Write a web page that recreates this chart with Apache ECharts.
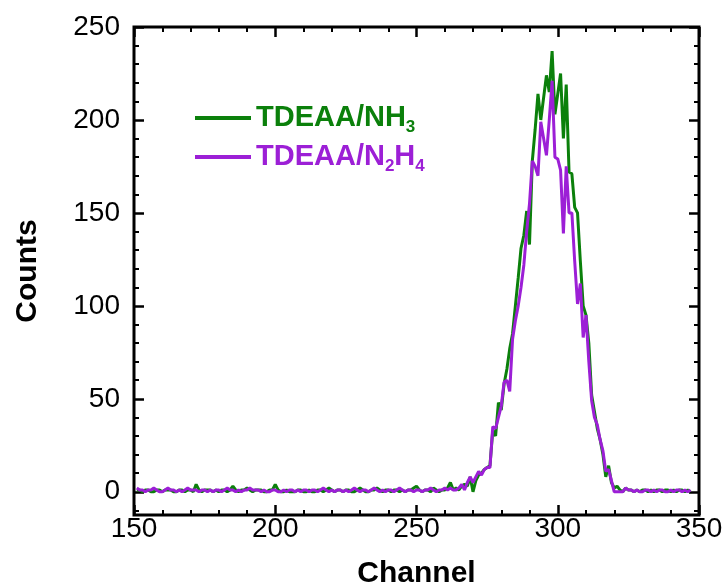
<!DOCTYPE html>
<html>
<head>
<meta charset="utf-8">
<script src="https://cdn.jsdelivr.net/npm/echarts@6/dist/echarts.min.js"></script>
<style>
  html, body { margin: 0; padding: 0; background: #fff; }
  #main { width: 724px; height: 587px; }
</style>
</head>
<body>
<div id="main"></div>
<script>
// first channel of both spectra, one value per channel after that
var channelStart = 151;

// TDEAA/NH3 counts, channels 151..347
var nh3Counts = [
  1,1,0,1,1,0,0,1,1,0,
  1,1,1,0,0,1,1,0,1,1,
  0,4,1,0,1,1,1,0,1,0,
  1,1,0,1,3,1,0,1,1,2,
  1,0,1,1,1,0,0,1,1,4,
  1,0,0,1,0,0,0,1,1,0,
  0,1,0,0,1,1,0,1,2,1,
  0,1,1,0,1,1,0,0,1,2,
  1,0,0,1,1,2,1,0,1,1,
  0,1,1,0,1,0,1,1,2,3,
  1,0,1,1,0,2,1,0,1,1,
  2,5,1,
  2,1,3,4,3,8,0,6,9,10,
  12,13,14,33,30,48,44,58,66,77,
  85,100,115,131,138,151,133,178,195,214,
  200,212,224,215,237,203,214,225,190,219,
  172,171,153,150,124,100,95,80,52,43,
  34,28,20,8,14,5,2,3,1,0,
  2,1,1,0,1,0,1,1,0,1,
  0,1,1,0,1,1,0,1,0,1,
  1,0,1,0
];

// TDEAA/N2H4 counts, channels 151..347
var n2h4Counts = [
  2,1,1,0,1,1,2,1,0,0,
  1,2,1,1,0,1,0,1,2,1,
  1,1,0,1,1,0,1,0,1,1,
  0,1,2,1,1,0,1,0,1,1,
  2,1,1,1,0,1,0,0,1,1,
  0,0,1,0,1,1,0,1,0,1,
  1,0,1,1,0,1,2,1,0,1,
  0,1,1,0,1,0,1,2,1,0,
  1,1,0,1,2,1,0,1,0,1,
  1,0,1,2,1,0,1,1,0,1,
  1,0,1,1,2,1,0,1,1,2,
  1,2,1,
  1,2,4,1,5,8,5,8,11,9,
  12,13,13,35,34,40,46,59,60,54,
  82,92,100,110,122,140,155,178,175,170,
  199,190,181,200,221,180,179,173,139,175,
  150,150,124,101,112,83,95,70,49,40,
  36,28,22,11,12,6,0,0,0,0,
  2,1,1,0,1,0,0,1,1,0,
  1,0,1,1,0,0,1,0,1,1,
  0,1,0,1
];

var yMajor = [0, 50, 100, 150, 200, 250];
var yMinor = [-10, 10, 20, 30, 40, 60, 70, 80, 90, 110, 120, 130, 140,
              160, 170, 180, 190, 210, 220, 230, 240];

var green = '#0b800b';
var purple = '#9c1fd6';

function pairs(arr) {
  return arr.map(function (v, i) { return [channelStart + i, v]; });
}

var myChart = echarts.init(document.getElementById('main'));

var xBase = {
  type: 'value', min: 150, max: 350, interval: 50,
  axisLine: { show: false, onZero: false },
  splitLine: { show: false },
  axisTick: { inside: true, length: 10, lineStyle: { color: '#000', width: 2.5 } },
  minorTick: { show: true, splitNumber: 5, length: 5, lineStyle: { color: '#000', width: 2 } }
};

function yAxisDef(pos, values, len, labels) {
  return {
    type: 'value', min: -12.5, max: 250, position: pos,
    axisLine: { show: false, onZero: false },
    splitLine: { show: false },
    axisTick: { inside: true, length: len, customValues: values,
                lineStyle: { color: '#000', width: len > 6 ? 2.5 : 2 } },
    axisLabel: labels ? {
      customValues: yMajor, margin: 14, color: '#000',
      fontFamily: 'Liberation Sans', fontSize: 28
    } : { show: false }
  };
}

function sub(color) {
  return { color: color, fontFamily: 'Liberation Sans', fontWeight: 'bold', fontSize: 17,
           lineHeight: 9, verticalAlign: 'bottom' };
}
function main(color) {
  return { color: color, fontFamily: 'Liberation Sans', fontWeight: 'bold', fontSize: 29,
           lineHeight: 36, verticalAlign: 'middle' };
}

var option = {
  animation: false,
  backgroundColor: '#fff',
  grid: {
    left: 134, right: 25, top: 27, bottom: 72,
    outerBoundsMode: 'none',
    show: true, borderColor: '#000', borderWidth: 3
  },
  legend: {
    orient: 'vertical', left: 195, top: 100, padding: 0,
    itemWidth: 56, itemHeight: 4, itemGap: 3, icon: 'rect',
    data: [
      { name: 'TDEAA/NH3' },
      { name: 'TDEAA/N2H4' }
    ],
    formatter: function (name) {
      if (name === 'TDEAA/NH3') return '{g|TDEAA/NH}{gs|3}';
      return '{p|TDEAA/N}{ps|2}{p|H}{ps|4}';
    },
    textStyle: {
      lineHeight: 36,
      rich: { g: main(green), gs: sub(green), p: main(purple), ps: sub(purple) }
    }
  },
  xAxis: [
    Object.assign({}, xBase, {
      position: 'bottom',
      name: 'Channel', nameLocation: 'middle', nameGap: 44,
      nameTextStyle: { fontFamily: 'Liberation Sans', fontWeight: 'bold', fontSize: 30, color: '#000' },
      axisLabel: { margin: 0, color: '#000', fontFamily: 'Liberation Sans', fontSize: 28 }
    }),
    Object.assign({}, xBase, { position: 'top', axisLabel: { show: false } })
  ],
  yAxis: [
    Object.assign(yAxisDef('left', yMajor, 10, true), {
      name: 'Counts', nameLocation: 'middle', nameGap: 91,
      nameTextStyle: { fontFamily: 'Liberation Sans', fontWeight: 'bold', fontSize: 30, color: '#000' }
    }),
    yAxisDef('left', yMinor, 5, false),
    yAxisDef('right', yMajor, 10, false),
    yAxisDef('right', yMinor, 5, false)
  ],
  series: [
    {
      name: 'TDEAA/NH3', type: 'line', showSymbol: false,
      xAxisIndex: 0, yAxisIndex: 0,
      data: pairs(nh3Counts),
      itemStyle: { color: green },
      lineStyle: { color: green, width: 3 }
    },
    {
      name: 'TDEAA/N2H4', type: 'line', showSymbol: false,
      xAxisIndex: 0, yAxisIndex: 0,
      data: pairs(n2h4Counts),
      itemStyle: { color: purple },
      lineStyle: { color: purple, width: 3 }
    }
  ]
};

myChart.setOption(option);
</script>
</body>
</html>
